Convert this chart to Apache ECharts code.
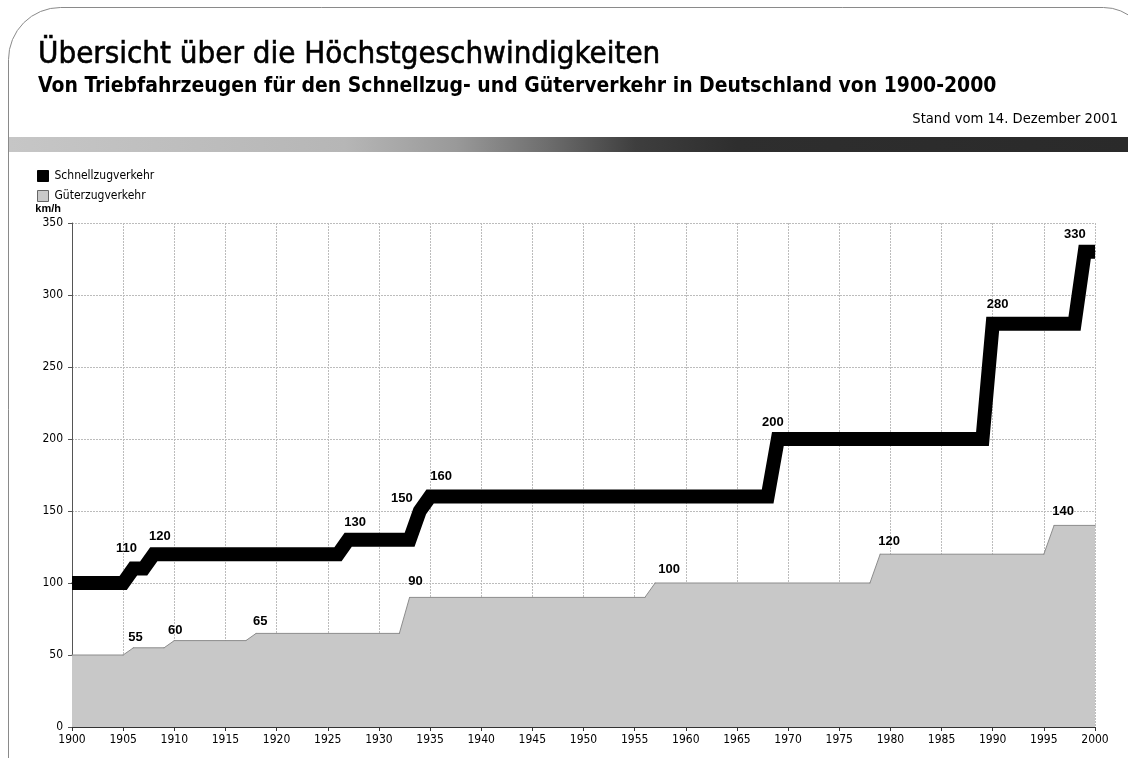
<!DOCTYPE html>
<html>
<head>
<meta charset="utf-8">
<title>Höchstgeschwindigkeiten 1900-2000</title>
<script src="https://cdn.jsdelivr.net/npm/echarts@6/dist/echarts.min.js"></script>
<style>
  html, body { margin: 0; padding: 0; background: #ffffff; }
  #chart { width: 1128px; height: 758px; }
</style>
</head>
<body>
<div id="chart"></div>
<script>
// Schnellzugverkehr: Höchstgeschwindigkeit (km/h) je Jahr, Stufenpunkte
const expressYears  = [1900, 1905, 1906, 1907, 1908, 1926, 1927, 1933, 1934, 1935, 1968, 1969, 1989, 1990, 1998, 1999, 2000];
const expressSpeeds = [100,  100,  110,  110,  120,  120,  130,  130,  150,  160,  160,  200,  200,  280,  280,  330,  330];
const expressLabelled = [1906, 1908, 1927, 1934, 1935, 1969, 1990, 1999];

// Güterzugverkehr: Höchstgeschwindigkeit (km/h) je Jahr, Stufenpunkte
const freightYears  = [1900, 1905, 1906, 1909, 1910, 1917, 1918, 1932, 1933, 1956, 1957, 1978, 1979, 1995, 1996, 2000];
const freightSpeeds = [50,   50,   55,   55,   60,   60,   65,   65,   90,   90,   100,  100,  120,  120,  140,  140];
const freightLabelled = [1906, 1910, 1918, 1933, 1957, 1979, 1996];

// Achsen
const yearMin = 1900, yearMax = 2000, yearStep = 5;
const speedMin = 0, speedMax = 350, speedStep = 50;

const seriesNames = ['Schnellzugverkehr', 'Güterzugverkehr'];
const titleText = 'Übersicht über die Höchstgeschwindigkeiten';
const subtitleText = 'Von Triebfahrzeugen für den Schnellzug- und Güterverkehr in Deutschland von 1900-2000';
const dateText = 'Stand vom 14. Dezember 2001';
const unitText = 'km/h';

// Feinverschiebung der Wertebeschriftungen (Pixel), damit sie nicht mit der Linie kollidieren
const expressLabelShift = {1906: [-7, -11], 1908: [6, -9], 1927: [7, -8], 1934: [-18, -4], 1935: [11, -11], 1969: [-5, -8], 1990: [5, -10], 1999: [-10, -8]};
const freightLabelShift = {1906: [2, -1], 1910: [1, -1], 1918: [4, -3], 1933: [6, -7], 1957: [14, -5], 1979: [9, -4], 1996: [9, -5]};

const NARROW = '"Liberation Sans Narrow", "DejaVu Sans Condensed", "Liberation Sans", "DejaVu Sans", sans-serif';
const LABEL_FONT = '"Liberation Sans", "DejaVu Sans", sans-serif';

// Schriftgröße so wählen, dass der Text eine gegebene Breite einnimmt
const measureCtx = document.createElement('canvas').getContext('2d');
function fitSize(text, weight, width, maxSize) {
  measureCtx.font = weight + ' 100px ' + NARROW;
  const s = 100 * width / measureCtx.measureText(text).width;
  return Math.min(s, maxSize);
}

function pointData(years, speeds, labelled, shifts, color) {
  return years.map((y, i) => {
    const item = { value: [y, speeds[i]] };
    if (labelled.includes(y)) {
      item.label = {
        show: true,
        position: 'top',
        distance: 2,
        offset: shifts[y],
        formatter: String(speeds[i]),
        fontFamily: LABEL_FONT,
        fontWeight: 'bold',
        fontSize: 13,
        color: color
      };
    }
    return item;
  });
}

const chart = echarts.init(document.getElementById('chart'), null, { renderer: 'canvas' });

const option = {
  backgroundColor: '#ffffff',
  animation: false,
  textStyle: { fontFamily: NARROW },
  grid: { left: 72, right: 33, top: 223, bottom: 31, containLabel: false },
  legend: {
    orient: 'vertical',
    left: 37,
    top: 170,
    itemWidth: 11,
    itemHeight: 11,
    itemGap: 8,
    padding: 0,
    selectedMode: false,
    textStyle: { fontFamily: NARROW, fontSize: 12, color: '#000', padding: [0, 0, 0, 1] },
    data: [
      { name: seriesNames[0], icon: 'rect', itemStyle: { color: '#000000', borderColor: '#000000', borderWidth: 1 } },
      { name: seriesNames[1], icon: 'rect', itemStyle: { color: '#c8c8c8', borderColor: '#666666', borderWidth: 1 } }
    ]
  },
  xAxis: {
    type: 'value',
    min: yearMin,
    max: yearMax,
    interval: yearStep,
    axisLine: { show: true, onZero: false, lineStyle: { color: '#333333', width: 1 } },
    axisTick: { show: true, length: 4, lineStyle: { color: '#333333' } },
    axisLabel: { color: '#000', fontSize: 12, fontFamily: NARROW, margin: 7, formatter: v => String(v) },
    splitLine: { show: true, lineStyle: { color: '#bcbcbc', width: 1, type: [2, 1] } }
  },
  yAxis: {
    type: 'value',
    min: speedMin,
    max: speedMax,
    interval: speedStep,
    name: unitText,
    nameLocation: 'end',
    nameGap: 9,
    nameTextStyle: { fontFamily: LABEL_FONT, fontWeight: 'bold', fontSize: 11, color: '#000', align: 'right', verticalAlign: 'bottom', padding: [0, 11, 0, 0] },
    axisLine: { show: true, lineStyle: { color: '#555555', width: 1 } },
    axisTick: { show: true, length: 4, lineStyle: { color: '#555555' } },
    axisLabel: { color: '#000', fontSize: 12, fontFamily: NARROW, margin: 9 },
    splitLine: { show: true, lineStyle: { color: '#bcbcbc', width: 1, type: [2, 1] } }
  },
  graphic: [
    // abgerundeter Rahmen um das Blatt
    {
      type: 'rect', z: -10, silent: true,
      shape: { x: 8.5, y: 7.5, width: 1140, height: 800, r: [52, 45, 0, 0] },
      style: { fill: 'none', stroke: '#8a8a8a', lineWidth: 1 }
    },
    // Trennbalken unter der Kopfzeile
    {
      type: 'rect', z: -5, silent: true,
      shape: { x: 9, y: 137, width: 1119, height: 15 },
      style: {
        fill: new echarts.graphic.LinearGradient(0, 0, 1, 0, [
          { offset: 0.00, color: '#c6c6c6' },
          { offset: 0.30, color: '#b6b6b6' },
          { offset: 0.40, color: '#999999' },
          { offset: 0.48, color: '#6e6e6e' },
          { offset: 0.56, color: '#3e3e3e' },
          { offset: 0.65, color: '#2e2e2e' },
          { offset: 1.00, color: '#2a2a2a' }
        ])
      }
    },
    {
      type: 'text', silent: true, x: 38, y: 55,
      style: {
        text: titleText, fill: '#000',
        fontFamily: NARROW, fontWeight: 'normal',
        fontSize: fitSize(titleText, 'normal', 630, 31),
        align: 'left', verticalAlign: 'middle',
        stroke: '#000', lineWidth: 0.6
      }
    },
    {
      type: 'text', silent: true, x: 38, y: 87,
      style: {
        text: subtitleText, fill: '#000',
        fontFamily: NARROW, fontWeight: 'bold',
        fontSize: fitSize(subtitleText, 'bold', 959, 24),
        align: 'left', verticalAlign: 'middle'
      }
    },
    {
      type: 'text', silent: true, x: 1118, y: 119,
      style: {
        text: dateText, fill: '#000',
        fontFamily: NARROW, fontWeight: 'normal',
        fontSize: fitSize(dateText, 'normal', 206, 16),
        align: 'right', verticalAlign: 'middle'
      }
    }
  ],
  series: [
    {
      name: seriesNames[1],
      type: 'line',
      z: 2,
      silent: true,
      symbol: 'rect',
      symbolSize: 1,
      showSymbol: true,
      itemStyle: { color: '#8c8c8c' },
      lineStyle: { color: '#8c8c8c', width: 1 },
      areaStyle: { color: '#c8c8c8', opacity: 1 },
      data: pointData(freightYears, freightSpeeds, freightLabelled, freightLabelShift, '#000')
    },
    {
      name: seriesNames[0],
      type: 'line',
      z: 3,
      silent: true,
      symbol: 'rect',
      symbolSize: 1,
      showSymbol: true,
      itemStyle: { color: '#000000' },
      lineStyle: { color: '#000000', width: 14, cap: 'butt', join: 'miter' },
      data: pointData(expressYears, expressSpeeds, expressLabelled, expressLabelShift, '#000')
    }
  ]
};

chart.setOption(option);
</script>
</body>
</html>
